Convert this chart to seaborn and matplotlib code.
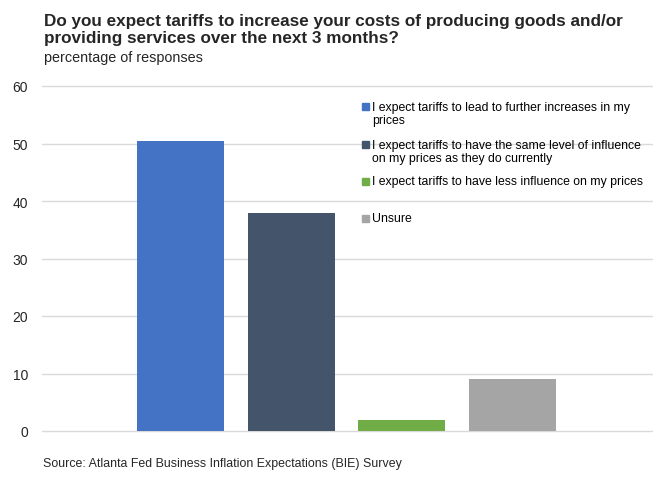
import pandas as pd
import matplotlib.pyplot as plt
import matplotlib.patches as mpatches
import seaborn as sns

# data
categories = [
    "I expect tariffs to lead to further increases in my\nprices",
    "I expect tariffs to have the same level of influence\non my prices as they do currently",
    "I expect tariffs to have less influence on my prices",
    "Unsure",
]
values = [50.4, 38.0, 2.0, 9.0]
colors = ["#4472C4", "#44546A", "#70AD47", "#A5A5A5"]
y_ticks = [0, 10, 20, 30, 40, 50, 60]

df = pd.DataFrame({"response": categories, "pct": values})

sns.set_style("white")
plt.rcParams["font.family"] = ["Liberation Sans", "DejaVu Sans"]

fig = plt.figure(figsize=(6.6, 4.85), dpi=100)
ax = fig.add_axes([42 / 660, 53 / 485, 610 / 660, 345 / 485])

sns.barplot(data=df, x="response", y="pct", hue="response",
            palette=colors, saturation=1, width=0.786, legend=False,
            linewidth=0, ax=ax, zorder=3)

ax.set_xlim(-1.251, 4.26)
ax.set_ylim(0, 60)
ax.set_yticks(y_ticks)
ax.set_xticks([])
ax.set_xlabel("")
ax.set_ylabel("")
ax.grid(axis="y", color="#D9D9D9", linewidth=1, zorder=0)
for gl in ax.get_ygridlines():
    gl.set_clip_on(False)
ax.tick_params(axis="y", length=0, labelsize=10, labelcolor="#262626", pad=10)
for s in ax.spines.values():
    s.set_visible(False)

# legend, drawn entry by entry so the swatch sits on the first line
legend_y = [107, 145, 182, 219]
for lab, col, yy in zip(categories, colors, legend_y):
    fig.patches.append(mpatches.Rectangle(
        (362 / 660, 1 - (yy + 3.5) / 485), 7 / 660, 7 / 485,
        transform=fig.transFigure, color=col, figure=fig))
    fig.text(372 / 660, 1 - (yy - 5.5) / 485, lab, fontsize=8.85,
             va="top", ha="left", color="#000000", linespacing=1.22)

fig.text(44 / 660, 1 - 26 / 485,
         "Do you expect tariffs to increase your costs of producing goods and/or",
         fontsize=12.3, fontweight="bold", va="baseline", ha="left")
fig.text(44 / 660, 1 - 43 / 485,
         "providing services over the next 3 months?",
         fontsize=12.3, fontweight="bold", va="baseline", ha="left")
fig.text(44 / 660, 1 - 62 / 485, "percentage of responses",
         fontsize=10.35, va="baseline", ha="left")
fig.text(43 / 660, 1 - 467.5 / 485,
         "Source: Atlanta Fed Business Inflation Expectations (BIE) Survey",
         fontsize=8.9, va="baseline", ha="left")

fig.savefig("out.png", dpi=100)
